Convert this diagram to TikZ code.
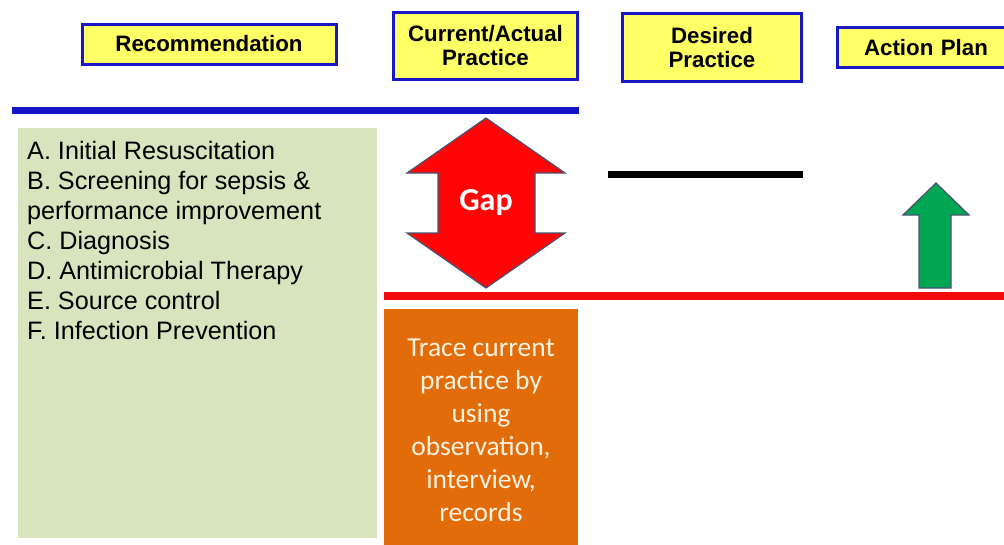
\documentclass[tikz,border=0pt]{standalone}
\usepackage{fontspec}
\setmainfont{Liberation Sans}
\newfontfamily\calib{Carlito}
\definecolor{hdrfill}{RGB}{255,255,102}
\definecolor{hdrline}{RGB}{25,25,195}
\definecolor{bluebar}{RGB}{20,20,200}
\definecolor{listfill}{RGB}{216,228,190}
\definecolor{gapred}{RGB}{255,5,5}
\definecolor{redbar}{RGB}{240,10,10}
\definecolor{arrline}{RGB}{70,85,115}
\definecolor{upgreen}{RGB}{0,166,81}
\definecolor{tracefill}{RGB}{226,108,10}
\definecolor{tracetext}{RGB}{255,242,222}
\begin{document}
\begin{tikzpicture}[x=1pt,y=-1pt,
  hdr/.style={draw=hdrline, fill=hdrfill, line width=3pt, align=center, inner sep=0pt,
    font=\fontsize{22.3}{24}\selectfont\bfseries},
  bar/.style={line width=7pt}]
\clip (0,0) rectangle (1004,544);
\fill[white] (0,0) rectangle (1004,544);
% headers
\node[hdr, minimum width=254pt, minimum height=40pt] (rec) at (209,44) {Recommendation};
\node[hdr, minimum width=184pt, minimum height=67pt] (cur) at (485.5,46) {Current/Actual\\Practice};
\node[hdr, minimum width=179pt, minimum height=68pt] (des) at (712,47.5) {Desired\\Practice};
\node[hdr, minimum width=178pt, minimum height=40pt, text width=178pt] (act) at (926,47.5) {Action Plan};
% bars
\draw[bar, bluebar] (12,110) -- (579,110);
\draw[bar, black] (608,174) -- (803,174);
\draw[line width=8pt, redbar] (384,296) -- (1004,296);
% list box
\fill[listfill] (18,128) rectangle (377,538);
\node[anchor=north west, align=left, inner sep=0pt, font=\fontsize{25.2}{30}\selectfont] (list) at (27,141)
  {A. Initial Resuscitation\\B. Screening for sepsis \&\\performance improvement\\C. Diagnosis\\D. Antimicrobial Therapy\\E. Source control\\F. Infection Prevention};
% gap double arrow
\filldraw[fill=gapred, draw=arrline, line width=1.2pt, line join=miter]
  (486,118) -- (565,173) -- (535,173) -- (535,233) -- (565,233) -- (486,288)
  -- (407,233) -- (438,233) -- (438,173) -- (407,173) -- cycle;
\node[text=white, font=\calib\fontsize{32}{32}\selectfont\bfseries] (gap) at (486,203) {Gap};
% green up arrow
\filldraw[fill=upgreen, draw=arrline, line width=1.2pt, line join=miter]
  (936,183) -- (969,215) -- (951,215) -- (951,288) -- (919,288) -- (919,215) -- (903,215) -- cycle;
% trace box
\node[fill=tracefill, anchor=north west, minimum width=194pt, minimum height=245pt, inner sep=0pt] (trace) at (384,309) {};
\node[text=tracetext, align=center, font=\calib\fontsize{27.5}{33}\selectfont] (tracetxt) at (481,430)
  {Trace current\\practice by\\using\\observation,\\interview,\\records};
\end{tikzpicture}
\end{document}
